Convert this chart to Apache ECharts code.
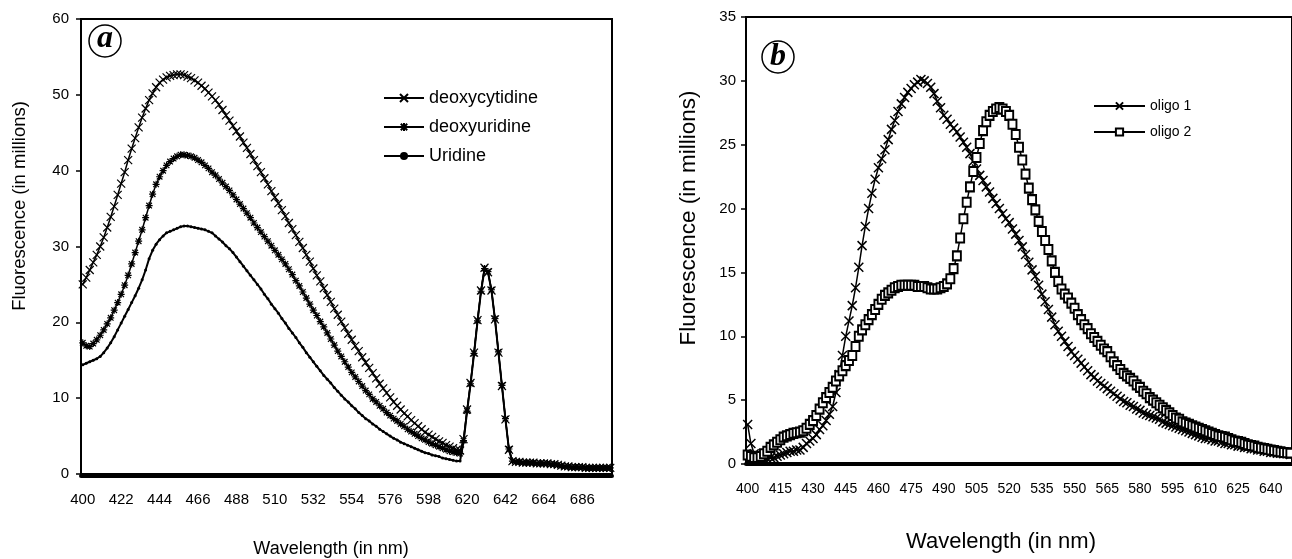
<!DOCTYPE html>
<html>
<head>
<meta charset="utf-8">
<script src="https://cdn.jsdelivr.net/npm/echarts@6/dist/echarts.min.js"></script>
<style>
  html, body { margin: 0; padding: 0; background: #fff; }
  #chart { width: 1292px; height: 559px; }
</style>
</head>
<body>
<div id="chart"></div>
<script>
// panel a: 400..702 nm, 2 nm step
const catA = [];
for (let w = 400; w <= 702; w += 2) catA.push(String(w));
// panel b: 400..649 nm, 1.5 nm step
const catB = [];
for (let i = 0; i < 167; i++) catB.push(String(400 + i * 1.5));

const deoxycytidine = [
  25.0, 25.9, 26.9, 27.9, 28.9, 30.0, 31.2, 32.5, 33.9, 35.3,
  36.8, 38.3, 39.8, 41.4, 42.9, 44.3, 45.7, 47.0, 48.2, 49.3,
  50.2, 51.0, 51.6, 52.0, 52.3, 52.5, 52.6, 52.7, 52.7, 52.6,
  52.4, 52.2, 51.9, 51.6, 51.2, 50.8, 50.3, 49.8, 49.3, 48.7,
  48.0, 47.3, 46.6, 45.9, 45.2, 44.5, 43.7, 43.0, 42.2, 41.4,
  40.6, 39.8, 39.0, 38.2, 37.3, 36.5, 35.7, 34.8, 34.0, 33.1,
  32.3, 31.5, 30.6, 29.8, 28.9, 28.0, 27.1, 26.2, 25.4, 24.5,
  23.6, 22.7, 21.8, 21.0, 20.1, 19.3, 18.5, 17.7, 16.9, 16.2,
  15.4, 14.7, 14.0, 13.3, 12.6, 11.9, 11.3, 10.7, 10.1, 9.5,
  9.0, 8.5, 8.0, 7.6, 7.1, 6.7, 6.3, 5.9, 5.5, 5.2,
  4.9, 4.6, 4.3, 4.1, 3.8, 3.6, 3.4, 3.2, 3.1,
  4.6, 8.5, 12.0, 16.0, 20.3, 24.2, 27.2, 26.6, 24.2, 20.4, 16.0, 11.6, 7.2, 3.2, 1.7,
  1.6, 1.6, 1.5, 1.5, 1.5, 1.5, 1.4, 1.4, 1.4, 1.4, 1.3, 1.3, 1.2, 1.1,
  1.0, 1.0, 0.9, 0.9, 0.9, 0.9, 0.8, 0.8, 0.8, 0.8, 0.8, 0.8, 0.8, 0.8
];
const deoxyuridine = [
  17.3, 16.9, 16.8, 17.2, 17.7, 18.3, 19.0, 19.8, 20.6, 21.6,
  22.6, 23.7, 24.9, 26.2, 27.7, 29.2, 30.7, 32.2, 33.8, 35.4,
  36.9, 38.2, 39.2, 40.0, 40.7, 41.2, 41.6, 41.9, 42.1, 42.1,
  42.0, 41.9, 41.7, 41.4, 41.1, 40.7, 40.3, 39.8, 39.4, 38.9,
  38.4, 37.9, 37.4, 36.8, 36.2, 35.6, 35.0, 34.4, 33.8, 33.1,
  32.5, 31.9, 31.3, 30.7, 30.1, 29.5, 28.9, 28.3, 27.7, 27.0,
  26.3, 25.5, 24.8, 24.0, 23.2, 22.4, 21.6, 20.9, 20.1, 19.4,
  18.6, 17.8, 17.0, 16.2, 15.5, 14.8, 14.1, 13.4, 12.8, 12.2,
  11.6, 11.0, 10.5, 9.9, 9.5, 9.0, 8.6, 8.1, 7.7, 7.3,
  7.0, 6.6, 6.3, 5.9, 5.6, 5.3, 5.0, 4.7, 4.5, 4.2,
  4.0, 3.8, 3.6, 3.4, 3.2, 3.0, 2.9, 2.8, 2.7,
  4.4, 8.3, 11.9, 15.9, 20.2, 24.1, 27.1, 26.7, 24.3, 20.5, 16.1, 11.7, 7.3, 3.3, 1.7,
  1.6, 1.6, 1.5, 1.5, 1.5, 1.5, 1.4, 1.4, 1.4, 1.4, 1.3, 1.3, 1.2, 1.1,
  1.0, 1.0, 0.9, 0.9, 0.9, 0.9, 0.8, 0.8, 0.8, 0.8, 0.8, 0.8, 0.8, 0.8
];
const uridine = [
  14.4, 14.6, 14.8, 15.0, 15.2, 15.5, 16.0, 16.6, 17.3, 18.1,
  19.0, 19.9, 20.8, 21.7, 22.6, 23.5, 24.5, 25.6, 26.9, 28.4,
  29.5, 30.3, 30.9, 31.4, 31.8, 32.0, 32.2, 32.4, 32.6, 32.7,
  32.7, 32.6, 32.5, 32.4, 32.3, 32.2, 32.0, 31.8, 31.4, 31.0,
  30.6, 30.1, 29.7, 29.2, 28.6, 28.0, 27.4, 26.8, 26.2, 25.6,
  25.0, 24.4, 23.7, 23.1, 22.4, 21.8, 21.2, 20.5, 19.9, 19.2,
  18.6, 18.0, 17.3, 16.7, 16.0, 15.4, 14.8, 14.2, 13.6, 13.0,
  12.5, 12.0, 11.4, 10.9, 10.4, 9.9, 9.5, 9.0, 8.6, 8.1,
  7.7, 7.3, 7.0, 6.6, 6.3, 5.9, 5.6, 5.3, 5.0, 4.7,
  4.5, 4.2, 4.0, 3.8, 3.6, 3.4, 3.2, 3.0, 2.8, 2.7,
  2.5, 2.4, 2.3, 2.1, 2.0, 1.9, 1.8, 1.7, 1.7,
  4.2, 8.2, 11.8, 15.8, 20.1, 24.0, 27.0, 26.6, 24.2, 20.4, 16.0, 11.6, 7.2, 3.2, 1.6,
  1.5, 1.5, 1.5, 1.4, 1.4, 1.4, 1.4, 1.3, 1.3, 1.3, 1.3, 1.2, 1.1, 1.0,
  1.0, 0.9, 0.9, 0.9, 0.8, 0.8, 0.8, 0.8, 0.8, 0.7, 0.7, 0.7, 0.7, 0.7
];

const oligo1 = [
  3.1, 1.6, 0.8, 0.5, 0.4, 0.4, 0.4, 0.5, 0.5, 0.6,
  0.7, 0.8, 0.9, 1.0, 1.0, 1.1, 1.1, 1.3, 1.6, 1.8,
  2.0, 2.3, 2.7, 3.0, 3.4, 3.9, 4.5, 5.6, 7.0, 8.5,
  10.0, 11.2, 12.4, 13.8, 15.4, 17.1, 18.6, 20.0, 21.2, 22.3,
  23.2, 23.9, 24.6, 25.4, 26.2, 26.9, 27.6, 28.2, 28.7, 29.1,
  29.4, 29.7, 29.9, 30.1, 30.0, 29.8, 29.5, 29.0, 28.4, 27.9,
  27.3, 27.0, 26.6, 26.3, 26.0, 25.6, 25.2, 24.8, 24.3, 23.7,
  23.1, 22.6, 22.2, 21.7, 21.3, 20.8, 20.4, 20.0, 19.6, 19.2,
  18.9, 18.4, 18.0, 17.5, 17.0, 16.4, 15.8, 15.2, 14.7, 14.0,
  13.3, 12.7, 12.1, 11.5, 10.9, 10.4, 10.0, 9.6, 9.2, 8.8,
  8.5, 8.2, 7.9, 7.6, 7.3, 7.0, 6.8, 6.5, 6.3, 6.1,
  5.9, 5.7, 5.5, 5.3, 5.1, 4.9, 4.8, 4.6, 4.5, 4.3,
  4.2, 4.0, 3.9, 3.8, 3.7, 3.6, 3.5, 3.3, 3.2, 3.1,
  3.0, 2.9, 2.8, 2.7, 2.6, 2.5, 2.4, 2.3, 2.2, 2.1,
  2.0, 2.0, 1.9, 1.8, 1.8, 1.7, 1.6, 1.6, 1.5, 1.5,
  1.4, 1.4, 1.3, 1.3, 1.2, 1.2, 1.1, 1.1, 1.0, 1.0,
  0.9, 0.9, 0.85, 0.85, 0.8, 0.8, 0.75
];
const oligo2 = [
  0.7, 0.6, 0.5, 0.5, 0.6, 0.8, 1.0, 1.3, 1.5, 1.7,
  1.9, 2.1, 2.2, 2.3, 2.4, 2.45, 2.5, 2.6, 2.8, 3.1,
  3.4, 3.8, 4.3, 4.8, 5.2, 5.6, 6.0, 6.5, 6.9, 7.3,
  7.7, 8.1, 8.5, 9.2, 10.0, 10.5, 10.9, 11.3, 11.7, 12.1,
  12.5, 12.9, 13.2, 13.4, 13.6, 13.8, 13.9, 14.0, 14.0, 14.0,
  14.0, 14.0, 13.9, 13.9, 13.9, 13.8, 13.7, 13.7, 13.7, 13.8,
  13.9, 14.1, 14.5, 15.3, 16.3, 17.7, 19.2, 20.5, 21.7, 22.9,
  24.0, 25.1, 26.1, 26.8, 27.3, 27.6, 27.8, 27.9, 27.8, 27.6,
  27.3, 26.6, 25.8, 24.8, 23.8, 22.7, 21.6, 20.7, 19.9, 19.0,
  18.2, 17.5, 16.8, 15.9, 15.0, 14.3, 13.7, 13.3, 13.0, 12.6,
  12.2, 11.7, 11.3, 10.9, 10.6, 10.2, 9.9, 9.6, 9.3, 9.0,
  8.8, 8.4, 8.0, 7.7, 7.4, 7.1, 6.9, 6.7, 6.5, 6.2,
  6.0, 5.7, 5.5, 5.2, 5.0, 4.8, 4.6, 4.4, 4.2, 4.0,
  3.8, 3.6, 3.5, 3.3, 3.2, 3.1, 3.0, 2.9, 2.8, 2.7,
  2.6, 2.5, 2.4, 2.3, 2.2, 2.15, 2.1, 2.0, 1.9, 1.8,
  1.75, 1.7, 1.6, 1.5, 1.45, 1.4, 1.3, 1.25, 1.2, 1.15,
  1.1, 1.05, 1.0, 0.95, 0.9, 0.88, 0.85
];

const font = 'Liberation Sans';
const xSym = 'path://M0,0L10,10M10,0L0,10';
const starSym = 'path://M1,1L9,9M9,1L1,9M5,0L5,10M0,5L10,5';

function curve(name, data, xi, yi, symbol, size, lw, bw) {
  return {
    name: name, type: 'line', xAxisIndex: xi, yAxisIndex: yi, data: data,
    symbol: symbol, symbolSize: size, showAllSymbol: true, silent: true,
    lineStyle: { color: '#000', width: lw },
    itemStyle: { color: '#000', borderColor: '#000', borderWidth: bw },
    emphasis: { disabled: true }
  };
}

const chart = echarts.init(document.getElementById('chart'));
chart.setOption({
  animation: false,
  backgroundColor: '#fff',
  textStyle: { fontFamily: font, color: '#000' },
  grid: [
    { left: 81, top: 19, right: 680, bottom: 85, show: true, borderColor: '#000', borderWidth: 2 },
    { left: 746, top: 17, right: -7, bottom: 95, show: true, borderColor: '#000', borderWidth: 2 }
  ],
  xAxis: [
    {
      gridIndex: 0, type: 'category', data: catA, position: 'bottom',
      axisLine: { lineStyle: { color: '#000', width: 1.5 } },
      axisTick: { interval: (i) => i % 10 === 5, length: 7, lineStyle: { color: '#000', width: 1.5 } },
      axisLabel: { interval: 10, fontSize: 15, margin: 18, color: '#000', fontFamily: font },
      splitLine: { show: false }
    },
    {
      // dense tick band under the axis
      gridIndex: 0, type: 'category', data: catA, position: 'bottom', offset: 2,
      axisLine: { lineStyle: { color: '#000', width: 4 } },
      axisTick: { show: false }, axisLabel: { show: false }, splitLine: { show: false }
    },
    {
      gridIndex: 1, type: 'category', data: catB, position: 'bottom',
      axisLine: { lineStyle: { color: '#000', width: 4 } },
      axisTick: { interval: (i) => i % 14 === 7, length: 6, lineStyle: { color: '#000', width: 1.5 } },
      axisLabel: { interval: 9, fontSize: 14, margin: 18, color: '#000', fontFamily: font },
      splitLine: { show: false }
    }
  ],
  yAxis: [
    {
      gridIndex: 0, type: 'value', min: 0, max: 60, interval: 10,
      axisLine: { show: true, lineStyle: { color: '#000', width: 2 } },
      axisTick: { show: true, length: 5, lineStyle: { color: '#000', width: 1.5 } },
      axisLabel: { fontSize: 15, margin: 12, color: '#000', fontFamily: font },
      splitLine: { show: false }
    },
    {
      gridIndex: 1, type: 'value', min: 0, max: 35, interval: 5,
      axisLine: { show: true, lineStyle: { color: '#000', width: 2 } },
      axisTick: { show: true, length: 5, lineStyle: { color: '#000', width: 1.5 } },
      axisLabel: { fontSize: 15, margin: 10, color: '#000', fontFamily: font },
      splitLine: { show: false }
    }
  ],
  legend: [
    {
      data: ['deoxycytidine', 'deoxyuridine', { name: 'Uridine', itemStyle: { borderWidth: 0 } }],
      orient: 'vertical',
      left: 383, top: 89, padding: 0, itemWidth: 40, itemHeight: 10, itemGap: 11,
      selectedMode: false, textStyle: { fontSize: 18, color: '#000', fontFamily: font }
    },
    {
      data: ['oligo 1', 'oligo 2'], orient: 'vertical',
      left: 1093, top: 99, padding: 0, itemWidth: 51, itemHeight: 9, itemGap: 12,
      selectedMode: false, textStyle: { fontSize: 14, color: '#000', fontFamily: font }
    }
  ],
  graphic: [
    { type: 'circle', shape: { cx: 105, cy: 41, r: 16 }, style: { fill: 'none', stroke: '#000', lineWidth: 1.5 } },
    { type: 'text', x: 105, y: 39, style: { text: 'a', font: 'italic bold 32px "Liberation Serif"', fill: '#000', align: 'center', verticalAlign: 'middle' } },
    { type: 'circle', shape: { cx: 778, cy: 57, r: 16 }, style: { fill: 'none', stroke: '#000', lineWidth: 1.5 } },
    { type: 'text', x: 778, y: 57, style: { text: 'b', font: 'italic bold 32px "Liberation Serif"', fill: '#000', align: 'center', verticalAlign: 'middle' } },
    { type: 'text', x: 20, y: 206, rotation: Math.PI / 2, style: { text: 'Fluorescence (in millions)', font: '18.5px "Liberation Sans"', fill: '#000', align: 'center', verticalAlign: 'middle' } },
    { type: 'text', x: 689, y: 218, rotation: Math.PI / 2, style: { text: 'Fluorescence (in millions)', font: '22.5px "Liberation Sans"', fill: '#000', align: 'center', verticalAlign: 'middle' } },
    { type: 'text', x: 331, y: 549, style: { text: 'Wavelength (in nm)', font: '18px "Liberation Sans"', fill: '#000', align: 'center', verticalAlign: 'middle' } },
    { type: 'text', x: 1001, y: 542, style: { text: 'Wavelength (in nm)', font: '22px "Liberation Sans"', fill: '#000', align: 'center', verticalAlign: 'middle' } }
  ],
  series: [
    curve('deoxycytidine', deoxycytidine, 0, 0, xSym, 8, 1.5, 1.2),
    curve('deoxyuridine', deoxyuridine, 0, 0, starSym, 7, 1.5, 1.2),
    curve('Uridine', uridine, 0, 0, 'circle', 3, 2, 0),
    curve('oligo 1', oligo1, 2, 1, xSym, 9, 1.5, 1.5),
    curve('oligo 2', oligo2, 2, 1, 'emptyRect', [8, 9], 1.5, 1.5)
  ]
});
</script>
</body>
</html>
